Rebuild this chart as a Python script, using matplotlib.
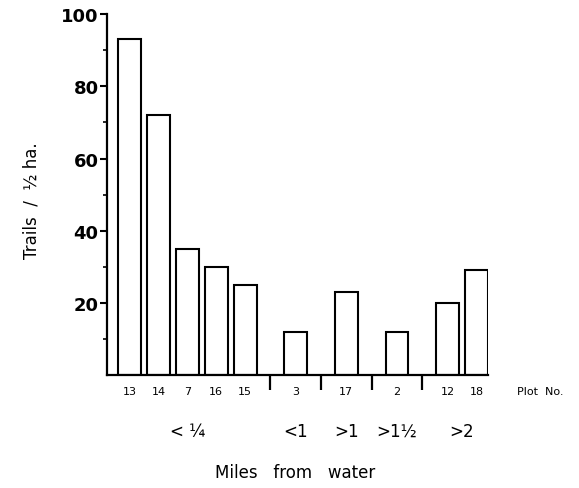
import matplotlib.pyplot as plt
import numpy as np

# Trails per 1/2 ha, by plot, grouped by distance from water
plot_no = ['13', '14', '7', '16', '15', '3', '17', '2', '12', '18']
trails = [93, 72, 35, 30, 25, 12, 23, 12, 20, 29]
group_labels = ['< ¼', '<1', '>1', '>1½', '>2']
group_sizes = [5, 1, 1, 1, 2]

# x positions: unit spacing inside a group, extra gap between groups
gap = 0.75
xpos = []
x = 0.0
group_centres = []
separators = []
for g, n in enumerate(group_sizes):
    start = x
    for i in range(n):
        xpos.append(x)
        x += 1
    group_centres.append((start + x - 1) / 2)
    if g < len(group_sizes) - 1:
        separators.append(x - 1 + (1 + gap) / 2)
    x += gap
xpos = np.array(xpos)

fig = plt.figure(figsize=(5.79, 4.89), dpi=100)
ax = fig.add_axes([0.1848, 0.231, 0.658, 0.738])

ax.bar(xpos, trails, width=0.79, color='white', edgecolor='black', linewidth=1.5)

ax.set_xlim(-0.78, xpos[-1] + 0.4)
ax.set_ylim(0, 100)

for s in ['top', 'right']:
    ax.spines[s].set_visible(False)
for s in ['left', 'bottom']:
    ax.spines[s].set_linewidth(1.6)

ax.set_yticks([20, 40, 60, 80, 100])
ax.set_yticks(np.arange(10, 100, 20), minor=True)
ax.tick_params(axis='y', which='major', length=5, width=1.5, labelsize=13, pad=1)
ax.tick_params(axis='y', which='minor', length=3, width=1.2)
for lab in ax.get_yticklabels():
    lab.set_fontweight('bold')

ax.set_xticks(separators)
ax.set_xticklabels([])
ax.tick_params(axis='x', which='major', length=11, width=1.6, direction='out')

trans = ax.get_xaxis_transform()
for xp, p in zip(xpos, plot_no):
    ax.text(xp, -0.045, p, transform=trans, ha='center', va='center', fontsize=8)
ax.text(xpos[-1] + 2.2, -0.045, 'Plot  No.', transform=trans, ha='center', va='center', fontsize=8)

for xc, g in zip(group_centres, group_labels):
    ax.text(xc, -0.155, g, transform=trans, ha='center', va='center', fontsize=12)

fig.text(0.51, 0.015, 'Miles   from   water', ha='center', va='bottom', fontsize=12)
fig.text(0.055, 0.59, 'Trails  /  ½ ha.', rotation=90, ha='center', va='center', fontsize=12)

fig.savefig('out.png', dpi=100)
